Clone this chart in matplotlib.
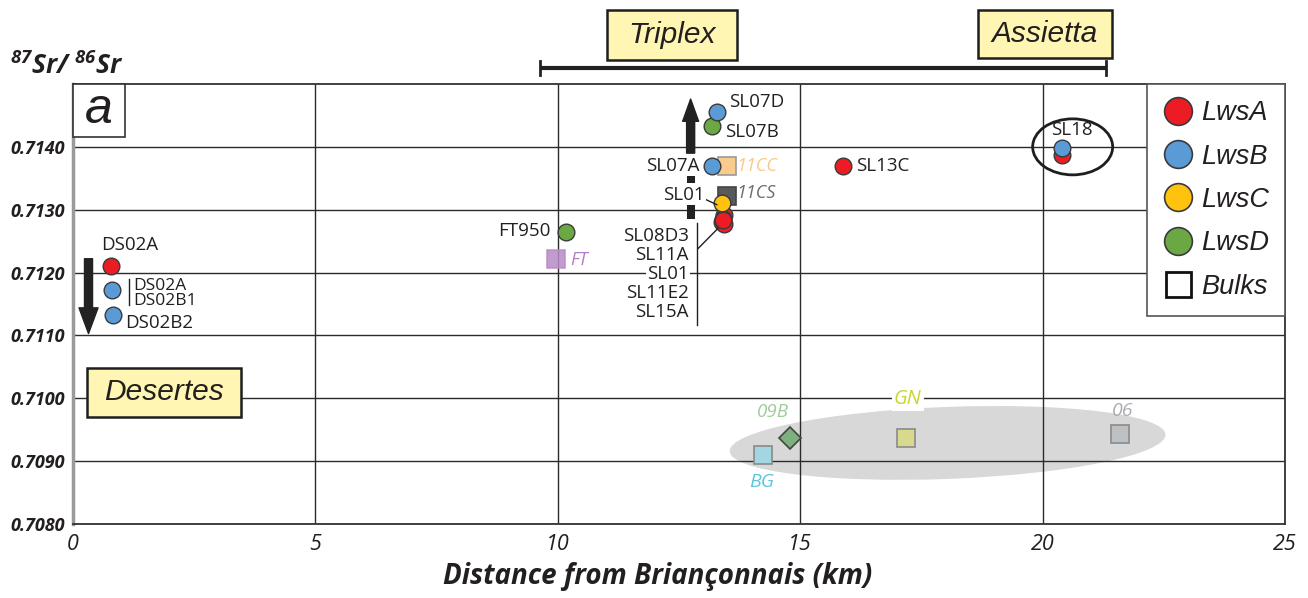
import matplotlib
matplotlib.use("Agg")
import matplotlib.pyplot as plt
import matplotlib.transforms as mtransforms
from matplotlib.patches import Ellipse, FancyArrowPatch, Rectangle
from matplotlib.lines import Line2D

plt.rcParams['mathtext.fontset'] = 'custom'
plt.rcParams['mathtext.rm'] = 'Open Sans:bold:italic'
plt.rcParams['mathtext.it'] = 'Open Sans:bold:italic'
plt.rcParams['mathtext.bf'] = 'Open Sans:bold:italic'

# ---------------- data ----------------
x_ticks = [0, 5, 10, 15, 20, 25]
x_tick_labels = ['0', '5', '10', '15', '20', '25']
y_ticks = [0.7080, 0.7090, 0.7100, 0.7110, 0.7120, 0.7130, 0.7140]
y_tick_labels = ['0.7080', '0.7090', '0.7100', '0.7110', '0.7120', '0.7130', '0.7140']

lwsA_x = [0.78, 13.42, 13.40, 13.38, 13.42, 13.40, 15.88, 20.41]
lwsA_y = [0.71210, 0.71292, 0.71286, 0.71280, 0.71277, 0.71283, 0.71370, 0.71387]

lwsB_x = [0.80, 0.82, 13.28, 13.18, 20.41]
lwsB_y = [0.71173, 0.71133, 0.71456, 0.71370, 0.71398]

lwsC_x = [13.38]
lwsC_y = [0.71310]

lwsD_x = [10.16, 13.18]
lwsD_y = [0.71265, 0.71433]

bulk_names = ['FT', '11CC', '11CS', 'BG', '09B', 'GN', '06']
bulk_x = [9.96, 13.48, 13.48, 14.23, 14.78, 17.18, 21.60]
bulk_y = [0.71222, 0.71370, 0.71322, 0.70910, 0.70937, 0.70937, 0.70943]

# ---------------- styles ----------------
C_A, C_B, C_C, C_D = '#ED1C24', '#5B9BD5', '#FFC20E', '#6BA843'
EDGE = '#3a3a3a'
TXT = '#231F20'
LAB_FONT = ['Open Sans', 'DejaVu Sans']
ARIAL = ['Liberation Sans', 'DejaVu Sans']
BOX_YELLOW = '#FFF6B3'

bulk_face = ['#B98BC6', '#FBCB8E', '#58595B', '#A3D6E3', '#7DB07F', '#D7D98C', '#BEC1C4']
bulk_edge = ['#B98BC6', '#9a9a9a', '#444444', '#8a8a8a', '#444444', '#8a8a8a', '#8a8a8a']
bulk_marker = ['s', 's', 's', 's', 'D', 's', 's']
bulk_ms = [13, 12.5, 12.5, 13.5, 11, 13, 13]
bulk_lab_color = ['#B07CC6', '#FBC88A', '#6D6E71', '#5DC5E0', '#9DCE9A', '#C9D530', '#A9ADB2']
bulk_lab_off = [(14, -1, 'left'), (10, 0, 'left'), (10, 3, 'left'), (-1, -27, 'center'),
                (-17, 26, 'center'), (2, 39, 'center'), (2, 23, 'center')]
bulk_lab_size = [13, 13, 13, 14, 13.5, 14.5, 14]

fig = plt.figure(figsize=(13.08, 5.98), dpi=100)
ax = fig.add_axes([73 / 1308, 1 - 524 / 598, (1285 - 73) / 1308, (524 - 84) / 598])
ax.set_xlim(0, 25)
ax.set_ylim(0.7080, 0.7150)
ax.set_xticks(x_ticks)
ax.set_xticklabels(x_tick_labels, fontsize=15.5, style='italic', family=LAB_FONT, color=TXT)
ax.set_yticks(y_ticks)
ax.set_yticklabels(y_tick_labels, fontsize=13, style='italic', weight='bold', family=LAB_FONT, color=TXT)
ax.tick_params(axis='both', length=0)
ax.tick_params(axis='x', pad=7)
ax.tick_params(axis='y', pad=6)
ax.grid(True, color='#2b2b2b', lw=1.0)
ax.set_axisbelow(True)
for s in ['top', 'right', 'bottom']:
    ax.spines[s].set_color('#333333')
    ax.spines[s].set_linewidth(1.3)
ax.spines['left'].set_color('#9a9a9a')
ax.spines['left'].set_linewidth(2.5)

ax.set_xlabel('Distance from Briançonnais (km)', fontsize=20, style='italic', weight='bold',
              family=LAB_FONT, color=TXT)
ax.xaxis.set_label_coords((658 - 73) / 1212, -(562 - 524) / 440)


def px_trans(cx, cy):
    """pixel-unit transform centred on a data point"""
    return mtransforms.IdentityTransform() + mtransforms.ScaledTranslation(cx, cy, ax.transData)


# grey ellipse around bulks
GREY_ELL_C = (18.04, 0.70929)
ax.add_patch(Ellipse((0, 0), 436, 72, angle=2.2, facecolor='#D9D8D8', edgecolor='none',
                     transform=px_trans(*GREY_ELL_C), zorder=0.2))
# black ellipse around SL18
SL18_ELL_C = (20.62, 0.71400)
ax.add_patch(Ellipse((0, 0), 80, 56, angle=0, facecolor='none', edgecolor='#1e1e1e', lw=2.0,
                     transform=px_trans(*SL18_ELL_C), zorder=4))

# bulks
for i in range(len(bulk_names)):
    ax.plot(bulk_x[i], bulk_y[i], marker=bulk_marker[i], ms=bulk_ms[i], ls='',
            mfc=bulk_face[i], mec=bulk_edge[i], mew=1.2, zorder=3,
            alpha=0.85 if i == 0 else 1.0)
    dx, dy, ha = bulk_lab_off[i]
    bb = dict(boxstyle='square,pad=0.1', fc='white', ec='none') if bulk_names[i] == 'GN' else None
    ax.annotate(bulk_names[i], (bulk_x[i], bulk_y[i]), xytext=(dx, dy), textcoords='offset pixels',
                ha=ha, va='center', fontsize=bulk_lab_size[i], style='italic', family=LAB_FONT,
                color=bulk_lab_color[i], bbox=bb, zorder=5)

mk = dict(marker='o', ms=12, ls='', mec=EDGE, mew=1.0)
# draw order: green, red, yellow, blue
ax.plot(lwsD_x, lwsD_y, mfc=C_D, zorder=4, **mk)
ax.plot(lwsA_x, lwsA_y, mfc=C_A, zorder=4, **mk)
ax.plot(lwsC_x, lwsC_y, mfc=C_C, zorder=4, **mk)
ax.plot(lwsB_x, lwsB_y, mfc=C_B, zorder=4, **mk)


def lab(text, xy, dx, dy, ha='left', bbox=None, size=13.5):
    ax.annotate(text, xy, xytext=(dx, dy), textcoords='offset pixels', ha=ha, va='center',
                fontsize=size, family=LAB_FONT, color=TXT, bbox=bbox, zorder=6)


WHITE = dict(boxstyle='square,pad=0.05', fc='white', ec='none')
lab('DS02A', (lwsA_x[0], lwsA_y[0]), 19, 21, 'center')
lab('DS02A', (lwsB_x[0], lwsB_y[0]), 21, 4, size=12.5)
lab('DS02B1', (lwsB_x[0], lwsB_y[0]), 21, -11, size=12.5)
lab('DS02B2', (lwsB_x[1], lwsB_y[1]), 12, -8)
lab('FT950', (lwsD_x[0], lwsD_y[0]), -15, 1, 'right')
lab('SL07D', (lwsB_x[2], lwsB_y[2]), 12, 10)
lab('SL07B', (lwsD_x[1], lwsD_y[1]), 13, -6)
lab('SL07A', (lwsB_x[3], lwsB_y[3]), -12, 0, 'right', bbox=WHITE)
lab('SL01', (lwsC_x[0], lwsC_y[0]), -17, 8, 'right', bbox=WHITE)
lab('SL13C', (lwsA_x[6], lwsA_y[6]), 13, 0)
lab('SL18', (lwsB_x[4], lwsB_y[4]), 9, 18, 'center')
cluster = (lwsA_x[5], lwsA_y[5])
for k, name in enumerate(['SL08D3', 'SL11A', 'SL01', 'SL11E2', 'SL15A']):
    lab(name, cluster, -34, -16 - 19 * k, 'right', bbox=WHITE if name == 'SL01' else None)

# leader / bracket lines (annotation decorations)
ax.plot([12.87, 12.87], [0.71279, 0.71116], color=TXT, lw=1.0, zorder=5)
ax.plot([12.89, 13.30], [0.71238, 0.71270], color=TXT, lw=1.0, zorder=5)
ax.plot([13.03, 13.28], [0.71317, 0.71308], color=TXT, lw=1.0, zorder=5)
ax.plot([1.15, 1.15], [0.71190, 0.71148], color=TXT, lw=1.0, zorder=5)

# arrows
ax.add_patch(FancyArrowPatch((0.32, 0.71222), (0.32, 0.71103),
                             arrowstyle='simple,head_length=1.85,head_width=1.37,tail_width=0.58',
                             mutation_scale=10, color='#222222', shrinkA=0, shrinkB=0, zorder=5))
ax.add_patch(FancyArrowPatch((12.74, 0.71390), (12.74, 0.71476),
                             arrowstyle='simple,head_length=1.6,head_width=1.15,tail_width=0.58',
                             mutation_scale=10, color='#222222', shrinkA=0, shrinkB=0, zorder=5))
for y0, y1 in [(0.71343, 0.71354), (0.71286, 0.71311)]:
    ax.plot([12.74, 12.74], [y0, y1], color='#222222', lw=5.8, solid_capstyle='butt', zorder=5)

# range bar above the axes
BAR_Y = 0.71525
ax.plot([9.63, 21.30], [BAR_Y, BAR_Y], color='#222222', lw=3, clip_on=False, solid_capstyle='butt')
for xe in (9.63, 21.30):
    ax.plot([xe, xe], [BAR_Y - 0.00011, BAR_Y + 0.00011], color='#222222', lw=2, clip_on=False)

# 'a' panel box
ax.add_patch(Rectangle((73 / 100, (598 - 137) / 100), 52 / 100, 53 / 100, transform=fig.dpi_scale_trans,
                       fc='white', ec='#333333', lw=1.2, zorder=6, clip_on=False))
fig.text(99 / 1308, 1 - 110 / 598, 'a', fontsize=36, style='italic', family=ARIAL, color=TXT,
         ha='center', va='center', zorder=7)


# region boxes
def region(text, x0, y0, x1, y1, size=21.5):
    fig.add_artist(Rectangle((x0 / 100, (598 - y1) / 100), (x1 - x0) / 100, (y1 - y0) / 100,
                             transform=fig.dpi_scale_trans, fc=BOX_YELLOW, ec='#1e1e1e', lw=1.8, zorder=8))
    fig.text((x0 + x1) / 2 / 1308, 1 - (y0 + y1) / 2 / 598, text, fontsize=size, style='italic',
             family=ARIAL, color=TXT, ha='center', va='center', zorder=9)


region('Triplex', 607, 10, 737, 60)
region('Assietta', 978, 10, 1112, 58)
region('Desertes', 87, 368, 241, 417)

# y label
fig.text(10 / 1308, 1 - 74 / 598, r'$^{87}$Sr/ $^{86}$Sr', fontsize=19, style='italic', weight='bold',
         family=LAB_FONT, color=TXT, ha='left', va='baseline')

# legend
handles = [Line2D([], [], marker='o', ls='', ms=20, mfc=c, mec=EDGE, mew=1.2) for c in (C_A, C_B, C_C, C_D)]
handles.append(Line2D([], [], marker='s', ls='', ms=18, mfc='white', mec='#111111', mew=2))
leg = ax.legend(handles, ['LwsA', 'LwsB', 'LwsC', 'LwsD', 'Bulks'], loc='upper right',
                bbox_to_anchor=(1, 1), borderaxespad=0, frameon=True, fancybox=False,
                edgecolor='#555555', framealpha=1, prop=dict(family=ARIAL, style='italic', size=19.5),
                borderpad=0.6, handlelength=1.1, handletextpad=0.3, labelspacing=0.64)
leg.get_frame().set_linewidth(1.2)
leg.set_zorder(10)
for t in leg.get_texts():
    t.set_color(TXT)

fig.savefig('out.png', dpi=100)
